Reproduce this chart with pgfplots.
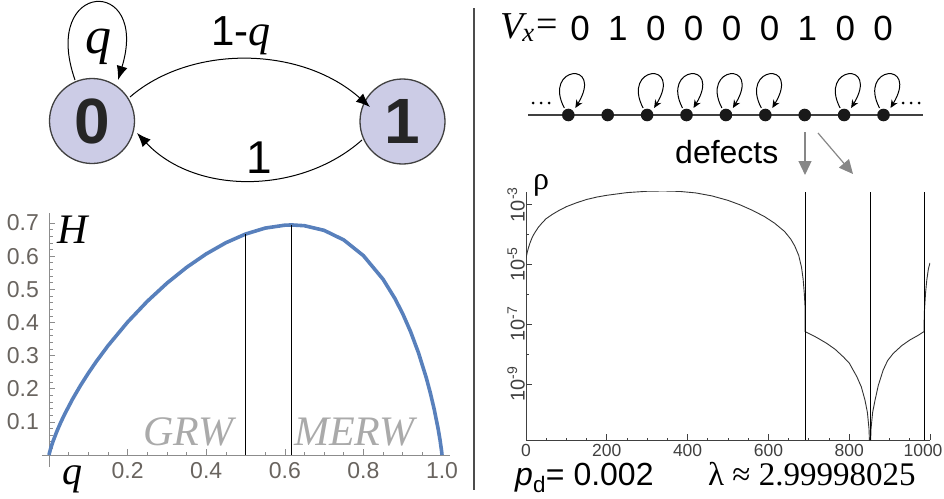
\documentclass[border=0pt]{standalone}
\usepackage{pgfplots}
\pgfplotsset{compat=1.18}
\usepackage{fontspec}
\setmainfont{Liberation Sans}
\newfontfamily\serif{Liberation Serif}
\usetikzlibrary{arrows.meta}
\definecolor{mblue}{RGB}{88,128,188}
\definecolor{lav}{RGB}{204,204,230}
\definecolor{tickgray}{RGB}{105,100,95}
\definecolor{axgray}{RGB}{140,140,140}
\definecolor{txtgray}{RGB}{170,170,170}
\definecolor{arrgray}{RGB}{135,135,135}
\newcommand\fs[1]{\fontsize{#1}{#1}\selectfont}
\newcommand\lt[1]{{\fontsize{23}{23}\selectfont #1}}
\newcommand\rt[1]{{\fontsize{17.5}{17.5}\selectfont #1}}
\newcommand\ry[1]{{\fontsize{20}{20}\selectfont 10\textsuperscript{#1}}}

\begin{document}
\begin{tikzpicture}
\path[use as bounding box] (0pt,0pt) rectangle (944pt,-498pt);

% ---------------- left plot: entropy H(q)
\begin{axis}[at={(41.93pt,-466.93pt)}, anchor=south west, scale only axis,
 width=407.93pt, height=253.85pt,
 xmin=-0.018, xmax=1.02, ymin=-0.036, ymax=0.73,
 axis lines=middle, axis line style={-, draw=axgray, line width=0.8pt},
 xtick={0,0.2,0.4,0.6,0.8,1.0},
 xticklabels={,\lt{0.2},\lt{0.4},\lt{0.6},\lt{0.8},\lt{1.0}},
 ytick={0,0.1,0.2,0.3,0.4,0.5,0.6,0.7},
 yticklabels={,\lt{0.1},\lt{0.2},\lt{0.3},\lt{0.4},\lt{0.5},\lt{0.6},\lt{0.7}},
 minor x tick num=3, minor y tick num=4,
 tick align=inside, major tick length=6pt, minor tick length=3.5pt,
 tick style={draw=axgray, line width=0.6pt},
 ticklabel style={text=tickgray, inner sep=2pt},
 xticklabel style={yshift=-5pt},
 yticklabel style={xshift=-8pt},
 clip=false]
\addplot[mblue, line width=3.6pt, line join=round] coordinates {
(0,0) (0.001,0.0057) (0.005,0.0228) (0.01,0.0406) (0.02,0.0714) (0.03,0.0987)
(0.04,0.1236) (0.06,0.1688) (0.08,0.2095) (0.1,0.2468) (0.12,0.2816) (0.15,0.3296)
(0.2,0.4011) (0.25,0.4636) (0.3,0.5184) (0.35,0.5661) (0.4,0.6068) (0.45,0.6405)
(0.5,0.6667) (0.55,0.6847) (0.6,0.6935) (0.618,0.6942) (0.65,0.6919) (0.7,0.6779)
(0.75,0.6490) (0.8,0.6016) (0.85,0.5303) (0.88,0.4726) (0.9,0.4264) (0.92,0.3724)
(0.94,0.3089) (0.96,0.2330) (0.97,0.1887) (0.98,0.1387) (0.99,0.0800) (0.995,0.0452)
(0.999,0.0114) (1,0)};
\addplot[black, line width=1.1pt] coordinates {(0.5,0) (0.5,0.6667)};
\addplot[black, line width=1.1pt] coordinates {(0.618,0) (0.618,0.6942)};
\end{axis}

% ---------------- right plot: rho (log10 values)
\begin{axis}[at={(526pt,-440pt)}, anchor=south west, scale only axis,
 width=404pt, height=248.3pt,
 xmin=0, xmax=1000, ymin=-10.876, ymax=-2.57,
 axis lines=left, axis line style={-, draw=black!75, line width=0.8pt},
 xtick={0,200,400,600,800,1000},
 xticklabels={\rt{0},\rt{200},\rt{400},\rt{600},\rt{800},\rt{1000\kern14pt}},
 minor x tick num=3, minor y tick num=1,
 ytick={-9,-7,-5,-3},
 yticklabels={\ry{-9},\ry{-7},\ry{-5},\ry{-3}},
 tick align=inside, major tick length=6pt, minor tick length=2.5pt,
 tick style={draw=black!75, line width=0.7pt},
 xticklabel style={text=black!75, inner sep=2pt, yshift=-2pt},
 yticklabel style={text=black!75, rotate=90, anchor=south, inner sep=1pt}]
\addplot[black!80, line width=0.9pt, line join=round] coordinates {
(0,-4.80) (3,-4.60) (6,-4.45) (10,-4.28) (15,-4.11) (20,-3.98) (30,-3.77) (40,-3.61)
(50,-3.47) (65,-3.33) (80,-3.21) (100,-3.07) (125,-2.94) (150,-2.83) (175,-2.75)
(200,-2.69) (250,-2.60) (300,-2.555) (340,-2.545) (380,-2.56) (420,-2.61) (460,-2.71)
(500,-2.86) (530,-3.01) (560,-3.19) (590,-3.40) (615,-3.62) (640,-3.90) (655,-4.15)
(665,-4.38) (675,-4.70) (682,-5.10) (686,-5.50) (689,-6.00) (690.6,-6.40) (690.6,-7.25)
(700,-7.31) (720,-7.45) (744,-7.64) (765,-7.84) (785,-8.09) (800,-8.30) (819,-8.76)
(830,-9.10) (839,-9.54) (845,-9.95) (849,-10.5) (851.5,-11.5) (854,-10.5) (858,-9.95)
(864,-9.54) (872,-9.05) (884,-8.54) (895,-8.22) (909,-7.98) (930,-7.72) (950,-7.53)
(970,-7.38) (985,-7.25) (986,-6.60) (989,-5.95) (992,-5.53) (996,-5.15) (1000,-4.95)};
\addplot[black, line width=0.9pt] coordinates {(690.6,-10.876) (690.6,-2.57)};
\addplot[black, line width=0.9pt] coordinates {(851.5,-10.876) (851.5,-2.57)};
\addplot[black, line width=0.9pt] coordinates {(985.1,-10.876) (985.1,-2.57)};
\end{axis}

\begin{scope}[x=1pt,y=-1pt]
% divider
\draw[line width=1.5pt, black!70] (474,8) -- (474,490);

% ---- two-state graph
\draw[line width=1.3pt, draw=black!75, fill=lav] (92,121) circle (42.5pt);
\draw[line width=1.3pt, draw=black!75, fill=lav] (402.5,121.5) circle (42.5pt);
\node[font=\fs{64}\bfseries, text=black!85] at (92,121) {0};
\node[font=\fs{64}\bfseries, text=black!85] at (402.5,121.5) {1};
\draw[line width=1pt, -{Latex[length=14pt,width=11pt]}] (75,80) .. controls (40,-20) and (150,-25) .. (118,80);
\draw[line width=1pt, -{Latex[length=14pt,width=11pt]}] (130,97) .. controls (190,45) and (300,45) .. (370,107);
\draw[line width=1pt, -{Latex[length=14pt,width=11pt]}] (362,140) .. controls (300,195) and (195,195) .. (137,133);
\node[anchor=base, inner sep=0pt, font=\serif\itshape\fs{52}] at (98,53) {q};
\node[anchor=base west, inner sep=0pt] at (211,45) {\fs{42}1-{\serif\itshape\fs{44}q}};
\node[anchor=base west, inner sep=0pt, font=\fs{46}] at (246,173) {1};

% ---- lattice
\node[anchor=base west, inner sep=0pt, font=\serif\itshape\fs{38}] at (500,38) {V\kern-1pt\textsubscript{x}};
\node[inner sep=0pt, font=\serif\fs{38}] at (547,28) {=};
\foreach \d [count=\i from 0] in {0,1,0,0,0,0,1,0,0}
  \node[anchor=base, inner sep=0pt, font=\fs{35}] at (580+37.9*\i,40) {\d};
\draw[line width=1.3pt, black!75] (528,115) -- (923,115);
\foreach \i in {0,...,8} \fill[black!90] (568.3+39.4*\i,115) circle (6.3pt);
\foreach \i in {0,2,3,4,5,7,8}
  \draw[line width=1pt, -{Stealth[length=8pt,width=7pt]}] (568.3+39.4*\i-4,108) .. controls (568.3+39.4*\i-26,66) and (568.3+39.4*\i+36,60) .. (568.3+39.4*\i+7,108);
\foreach \x in {533,541,549,903,911,919} \fill (\x,103) circle (1.5pt);
\node[anchor=base west, inner sep=0pt, font=\fs{32}] at (675,163) {defects};
\draw[line width=1.2pt, arrgray, -{Triangle[length=14pt,width=13pt]}] (805,132) -- (805,175);
\draw[line width=1.2pt, arrgray, -{Triangle[length=14pt,width=13pt]}] (818,133) -- (853,174);

% ---- left plot labels
\node[anchor=base west, inner sep=0pt, font=\serif\itshape\fs{42}] at (57,243) {H};
\node[anchor=base west, inner sep=0pt, font=\serif\itshape\fs{40}] at (62,484) {q};
\node[anchor=base west, inner sep=0pt, font=\serif\itshape\fs{42}, text=txtgray] at (143,445) {GRW};
\node[anchor=base west, inner sep=0pt, font=\serif\itshape\fs{42}, text=txtgray] at (294,445) {MERW};

% ---- right plot labels
\node[anchor=base west, inner sep=0pt, font=\serif\fs{32}] at (533,189) {ρ};
\node[anchor=base west, inner sep=0pt, font=\fs{32}] at (515,485) {\textit{p}\textsubscript{d}= 0.002};
\node[anchor=base west, inner sep=0pt, font=\serif\fs{33}] at (708,485) {λ ≈ 2.99998025};
\end{scope}
\end{tikzpicture}
\end{document}
